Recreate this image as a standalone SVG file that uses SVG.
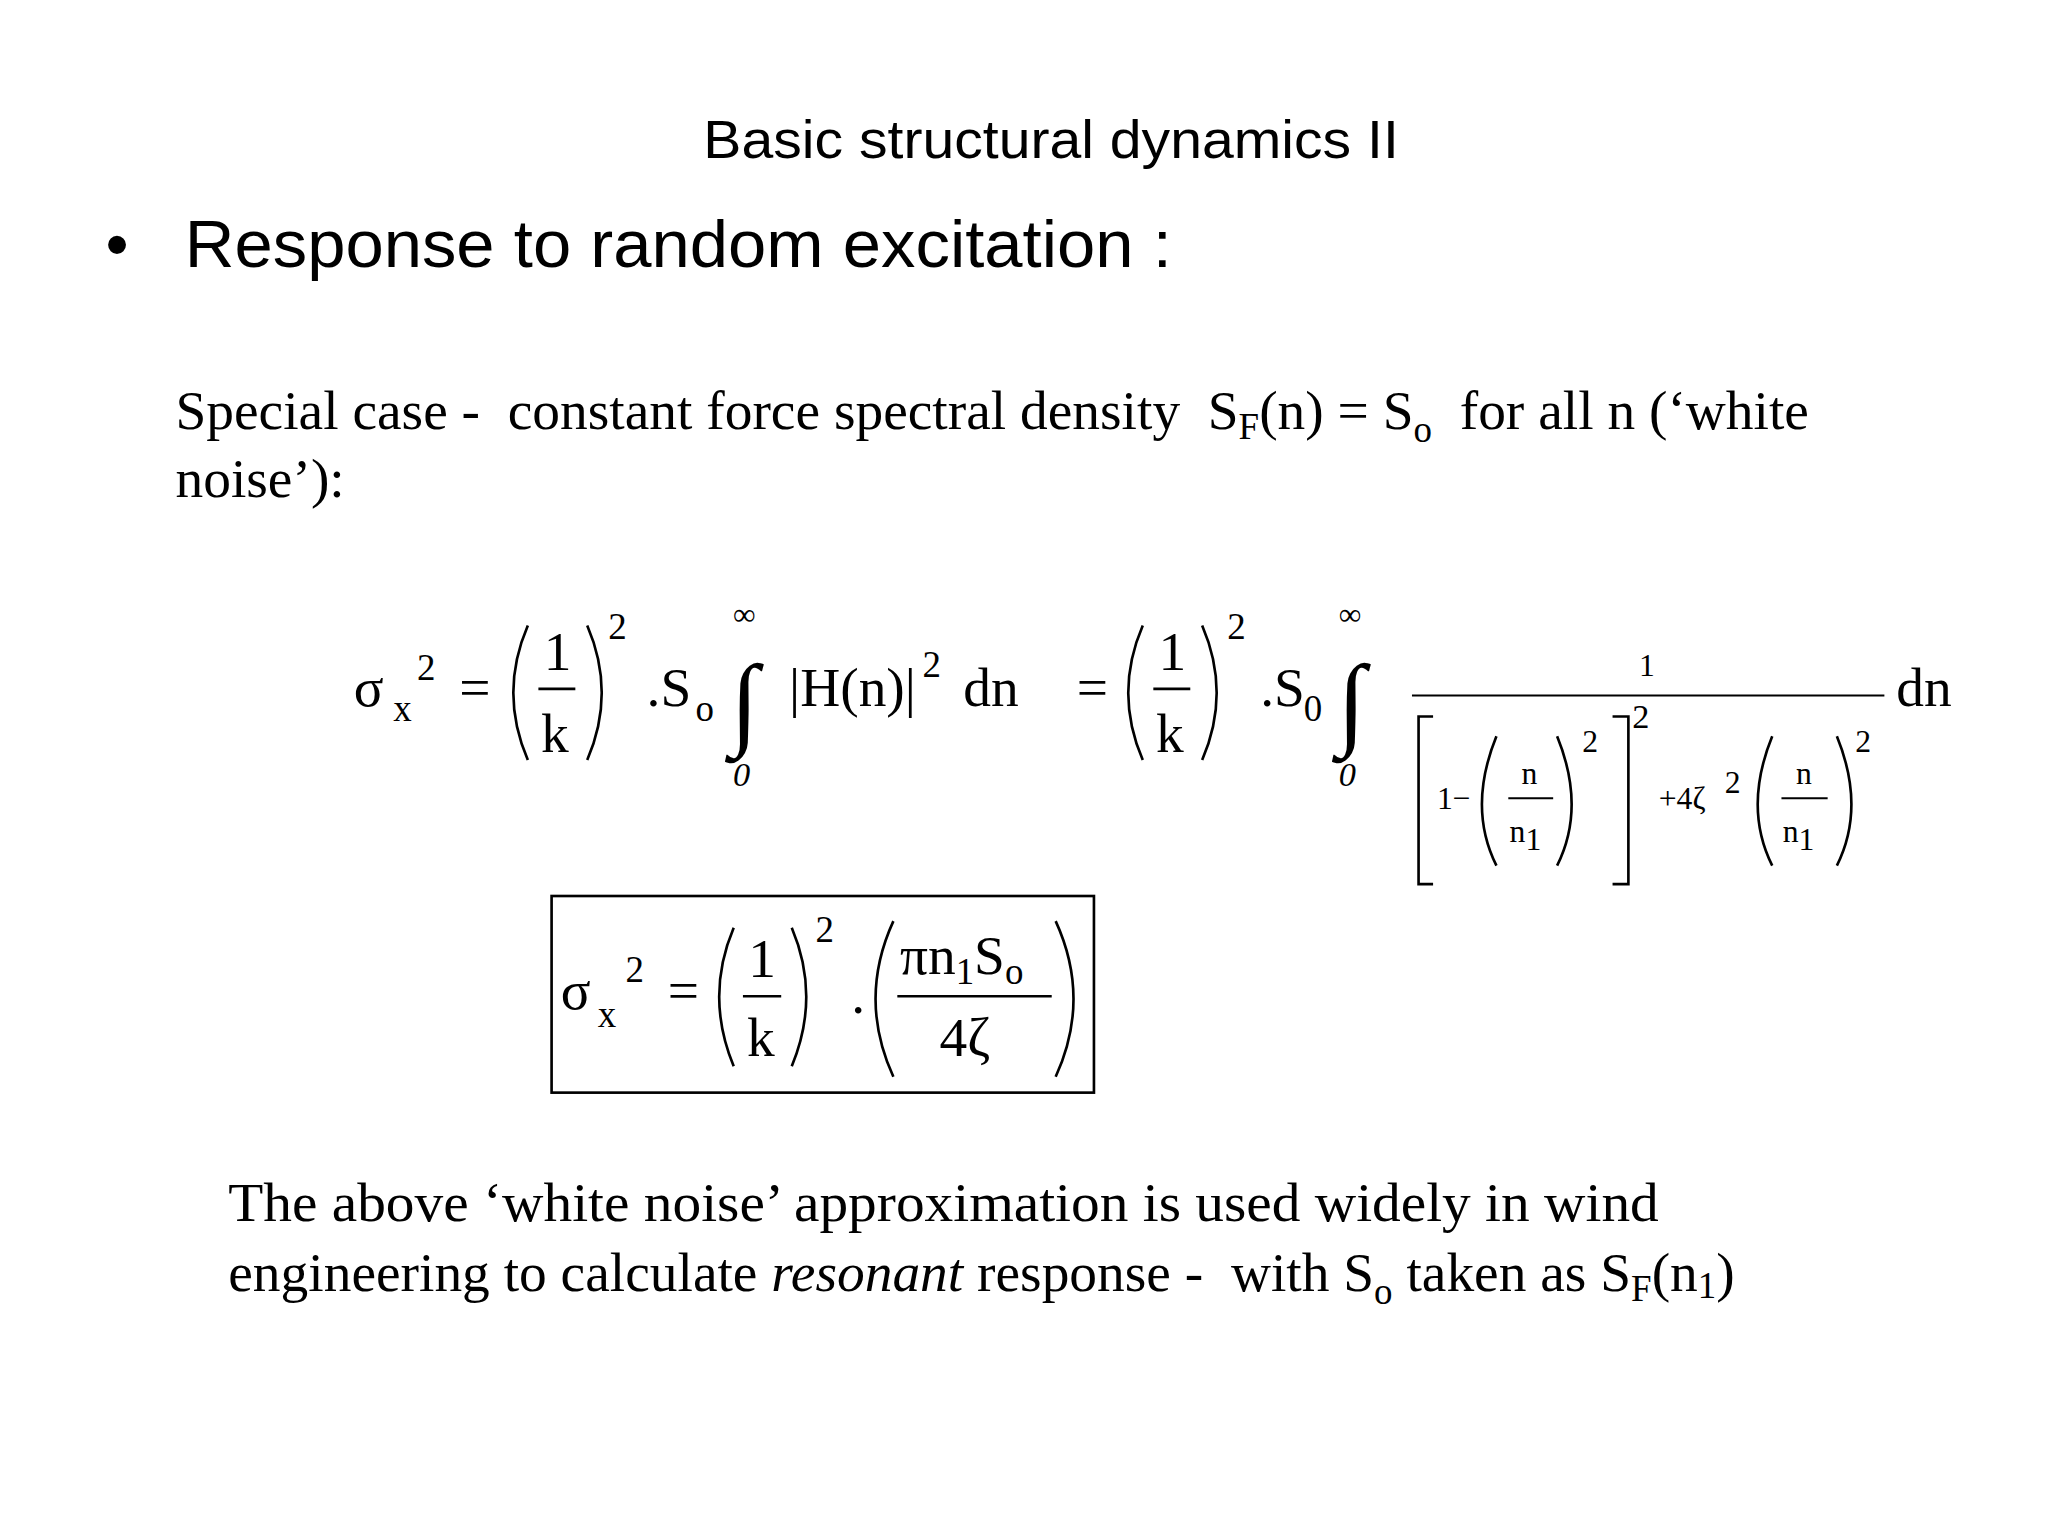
<svg xmlns="http://www.w3.org/2000/svg" width="2048" height="1536" viewBox="0 0 2048 1536">
<style>
text{white-space:pre}
.a{font-family:"Liberation Sans",Arial,sans-serif;fill:#000}
.t{font-family:"Liberation Serif","Times New Roman",serif;fill:#000}
.p{fill:none;stroke:#000;stroke-width:2}
</style>
<rect width="2048" height="1536" fill="#fff"/>
<g transform="scale(1.3196)">
<g id="title"><text class="a" x="533" y="120" font-size="40" textLength="527" lengthAdjust="spacingAndGlyphs">Basic structural dynamics II</text></g>
<g id="bullet"><text class="a" x="80" y="202" font-size="50">•</text><text class="a" x="140" y="202" font-size="50" textLength="748" lengthAdjust="spacingAndGlyphs">Response to random excitation :</text></g>
<g id="intro" font-size="42">
<text class="t" x="133" y="325">Special case -  constant force spectral density  S<tspan font-size="28" dy="8">F</tspan><tspan dy="-8">(n) = S</tspan><tspan font-size="28" dy="10">o</tspan><tspan dy="-10">  for all n (‘white</tspan></text>
<text class="t" x="133" y="377">noise’):</text>
</g>
<g id="eq1" font-size="42">
<text class="t" x="268" y="535">σ</text><text class="t" x="298" y="546" font-size="28">x</text><text class="t" x="316" y="515" font-size="28">2</text>
<text class="t" x="348" y="535">=</text>
<path class="p" d="M400,474 Q378,525 400,576 M445,474 Q467,525 445,576"/>
<text class="t" x="412" y="508">1</text><line class="p" x1="408" y1="522" x2="436" y2="522"/><text class="t" x="410" y="570">k</text>
<text class="t" x="461" y="484" font-size="28">2</text>
<text class="t" x="490" y="535">.S</text><text class="t" x="527" y="546" font-size="28">o</text>
<text class="t" x="564" y="558" font-size="78" text-anchor="middle">∫</text>
<text class="t" x="564" y="474" font-size="24" text-anchor="middle">∞</text><text class="t" x="562" y="596" font-size="26" font-style="italic" text-anchor="middle">0</text>
<text class="t" x="598" y="535">|H(n)|</text><text class="t" x="699" y="513" font-size="28">2</text><text class="t" x="730" y="535">dn</text>
<text class="t" x="816" y="535">=</text>
<path class="p" d="M866,474 Q844,525 866,576 M911,474 Q933,525 911,576"/>
<text class="t" x="878" y="508">1</text><line class="p" x1="874" y1="522" x2="902" y2="522"/><text class="t" x="876" y="570">k</text>
<text class="t" x="930" y="484" font-size="28">2</text>
<text class="t" x="955" y="535">.S</text><text class="t" x="988" y="546" font-size="28">0</text>
<text class="t" x="1024" y="558" font-size="78" text-anchor="middle">∫</text>
<text class="t" x="1023" y="474" font-size="24" text-anchor="middle">∞</text><text class="t" x="1021" y="596" font-size="26" font-style="italic" text-anchor="middle">0</text>
<text class="t" x="1248" y="512" font-size="24" text-anchor="middle">1</text>
<line x1="1070" y1="527" x2="1428" y2="527" stroke="#000" stroke-width="1.5"/>
<text class="t" x="1437" y="535">dn</text>
<path class="p" d="M1086,543 H1075 V670 H1086 M1222,543 H1234 V670 H1222"/>
<text class="t" x="1089" y="613" font-size="24">1−</text>
<path class="p" d="M1134,558 Q1112,612 1134,656 M1180,558 Q1202,612 1180,656"/>
<text class="t" x="1159" y="594" font-size="24" text-anchor="middle">n</text><line x1="1143" y1="605" x2="1177" y2="605" stroke="#000" stroke-width="1.5"/><text class="t" x="1144" y="638" font-size="24">n<tspan dy="6">1</tspan></text>
<text class="t" x="1199" y="570" font-size="24">2</text><text class="t" x="1237" y="552" font-size="26">2</text>
<text class="t" x="1257" y="613" font-size="24">+4ζ</text><text class="t" x="1307" y="601" font-size="24">2</text>
<path class="p" d="M1343,558 Q1321,612 1343,656 M1392,558 Q1414,612 1392,656"/>
<text class="t" x="1367" y="594" font-size="24" text-anchor="middle">n</text><line x1="1350" y1="605" x2="1385" y2="605" stroke="#000" stroke-width="1.5"/><text class="t" x="1351" y="638" font-size="24">n<tspan dy="6">1</tspan></text>
<text class="t" x="1406" y="570" font-size="24">2</text>
</g>
<g id="result" font-size="42">
<rect x="418" y="679" width="411" height="149" fill="none" stroke="#000" stroke-width="2"/>
<text class="t" x="425" y="765">σ</text><text class="t" x="453" y="778" font-size="28">x</text><text class="t" x="474" y="744" font-size="28">2</text>
<text class="t" x="506" y="765">=</text>
<path class="p" d="M556,703 Q534,755 556,808 M600,703 Q622,755 600,808"/>
<text class="t" x="567" y="740">1</text><line class="p" x1="563" y1="755" x2="592" y2="755"/><text class="t" x="566" y="800">k</text>
<text class="t" x="618" y="714" font-size="28">2</text>
<text class="t" x="645" y="768">.</text>
<path class="p" d="M677,698 Q650,757 677,816 M800,698 Q827,757 800,816"/>
<text class="t" x="682" y="738">πn<tspan font-size="28" dy="8">1</tspan><tspan dy="-8">S</tspan><tspan font-size="28" dy="8">o</tspan></text>
<line class="p" x1="680" y1="755" x2="797" y2="755"/>
<text class="t" x="712" y="800">4ζ</text>
</g>
<g id="note" font-size="42">
<text class="t" x="173" y="925" textLength="1084" lengthAdjust="spacingAndGlyphs">The above ‘white noise’ approximation is used widely in wind</text>
<text class="t" x="173" y="978">engineering to calculate <tspan font-style="italic">resonant</tspan> response -  with S<tspan font-size="28" dy="10">o</tspan><tspan dy="-10"> taken as S</tspan><tspan font-size="28" dy="8">F</tspan><tspan dy="-8">(n</tspan><tspan font-size="28" dy="6">1</tspan><tspan dy="-6">)</tspan></text>
</g>
</g>
</svg>
